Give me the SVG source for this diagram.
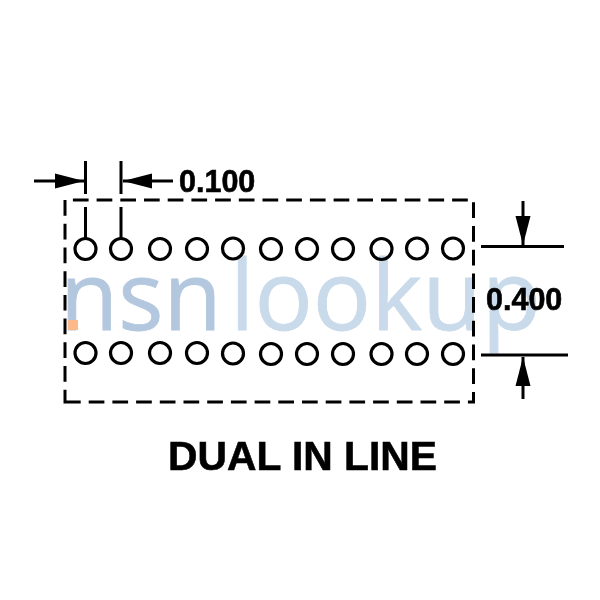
<svg xmlns="http://www.w3.org/2000/svg" width="600" height="600" viewBox="0 0 600 600">
<style>
.l{stroke:#000;stroke-width:3;fill:none}
.h{fill:#fff;stroke:#000;stroke-width:3.2}
.t{font-family:"Liberation Sans",Arial,sans-serif;font-weight:bold;fill:#000;stroke:#000;stroke-width:.6}
.w{font-family:"Open Sans","Noto Sans",sans-serif;mix-blend-mode:multiply;stroke-width:.8}
</style>
<defs>
<marker id="a" markerUnits="userSpaceOnUse" markerWidth="32" markerHeight="18" refX="29" refY="9" orient="auto"><path d="M0 1.500L29 9L0 16.500Z" fill="#000"/></marker>
</defs>
<rect width="600" height="600" fill="#fff"/>
<g id="outline"><path class="l" stroke-dasharray="15.7 8" d="M65 402H473.500V200H65Z"/></g>
<g id="connectors">
<path class="l" d="M85.500 161V194M85.500 207V238M121 161V194M121 207V238"/>
<path class="l" marker-end="url(#a)" d="M34 181H84"/>
<path class="l" marker-end="url(#a)" d="M173 181H123"/>
<path class="l" d="M481 246.500H564M481 355H568"/>
<path class="l" marker-end="url(#a)" d="M523 201V245"/>
<path class="l" marker-end="url(#a)" d="M523 399V357"/>
</g>
<g id="row1">
<circle class="h" cx="85.500" cy="249" r="10.500"/><circle class="h" cx="121" cy="249" r="10.500"/><circle class="h" cx="160" cy="249" r="10.500"/><circle class="h" cx="197" cy="249" r="10.500"/><circle class="h" cx="233" cy="248.500" r="10.500"/><circle class="h" cx="271" cy="249" r="10.500"/><circle class="h" cx="307" cy="249" r="10.500"/><circle class="h" cx="343" cy="249" r="10.500"/><circle class="h" cx="381.500" cy="249" r="10.500"/><circle class="h" cx="417" cy="248.500" r="10.500"/><circle class="h" cx="453" cy="248.500" r="10.500"/>
</g>
<g id="row2">
<circle class="h" cx="85.500" cy="353" r="10.500"/><circle class="h" cx="121" cy="353" r="10.500"/><circle class="h" cx="160" cy="353" r="10.500"/><circle class="h" cx="197" cy="353" r="10.500"/><circle class="h" cx="233" cy="353.500" r="10.500"/><circle class="h" cx="271" cy="354" r="10.500"/><circle class="h" cx="307" cy="354" r="10.500"/><circle class="h" cx="343" cy="354" r="10.500"/><circle class="h" cx="381.500" cy="354" r="10.500"/><circle class="h" cx="417" cy="354" r="10.500"/><circle class="h" cx="453" cy="354" r="10.500"/>
</g>
<text class="t" x="179" y="191.500" font-size="30.500">0.100</text>
<text class="t" x="486" y="310" font-size="30.500">0.400</text>
<text class="t" x="168" y="470" font-size="40.800">DUAL IN LINE</text>
<g id="watermark">
<text class="w" y="330"><tspan x="60" font-size="95" fill="#b3c8de" stroke="#b3c8de">nsn</tspan><tspan x="230" font-size="97" fill="#c9daeb" stroke="#c9daeb">lookup</tspan></text>
<rect x="68" y="320" width="10" height="10" fill="#fdb98a"/>
</g>
</svg>
